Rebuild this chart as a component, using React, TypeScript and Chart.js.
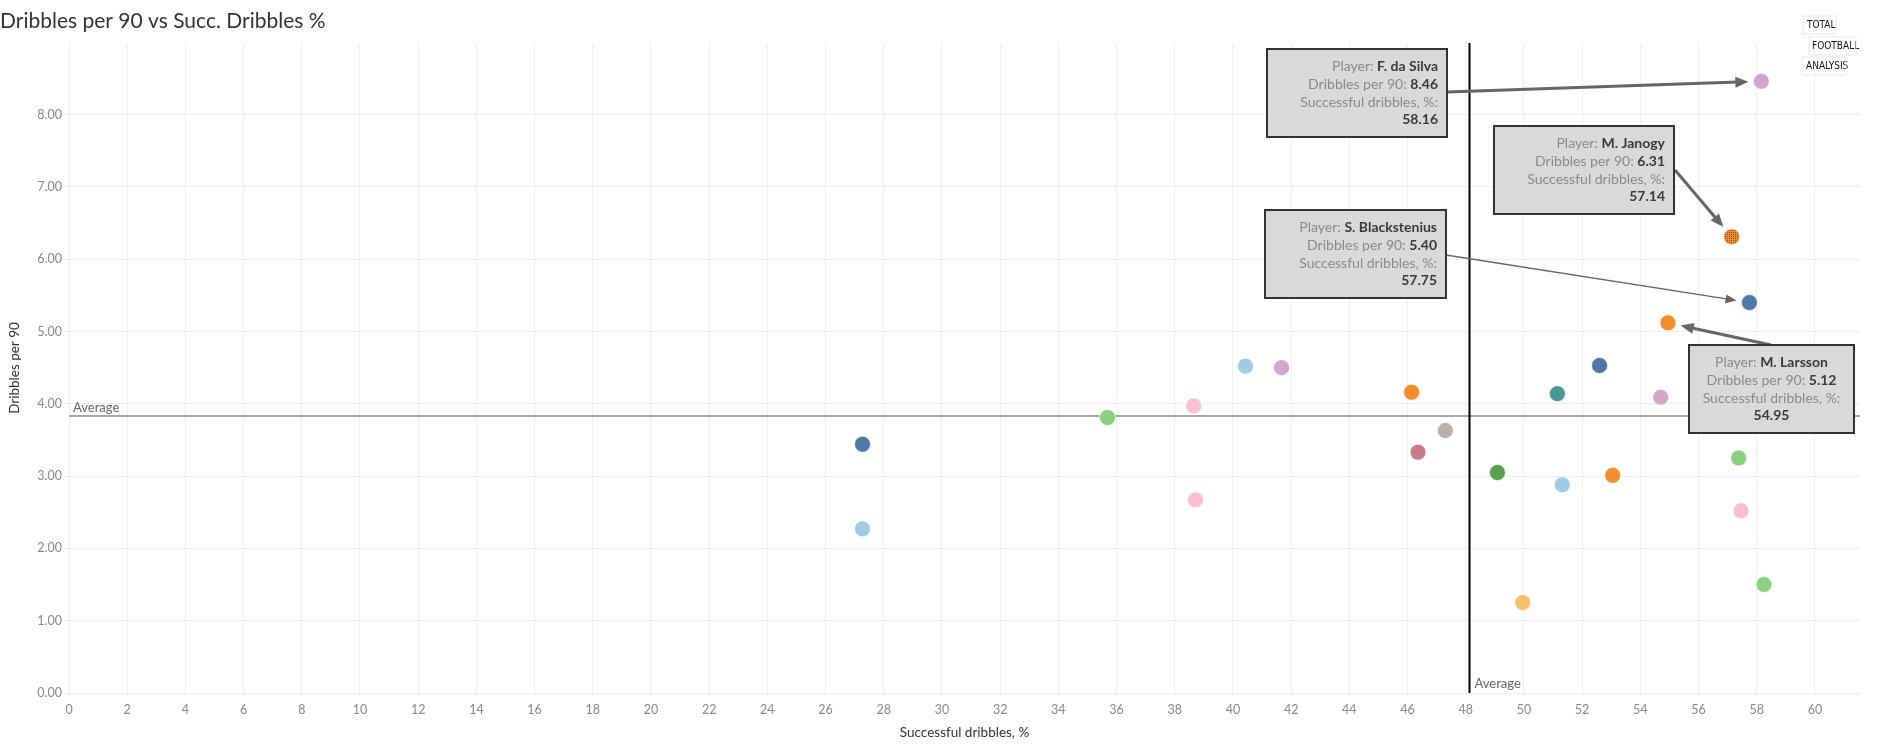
import React, { useEffect, useRef } from "react";
import { Chart, registerables } from "chart.js";

Chart.register(...registerables);

// ---- data ----
const succDribblesPct: number[] = [
  58.16, 57.14, 57.75, 54.95, 52.6, 51.15, 54.7, 40.43, 41.67, 46.14, 38.65, 35.69,
  47.3, 27.27, 46.36, 49.09, 51.32, 53.05, 57.38, 38.71, 57.46, 27.27, 49.96, 58.25,
];
const dribblesPer90: number[] = [
  8.46, 6.31, 5.4, 5.12, 4.53, 4.14, 4.09, 4.52, 4.5, 4.16, 3.97, 3.81,
  3.63, 3.44, 3.33, 3.05, 2.88, 3.01, 3.25, 2.67, 2.52, 2.27, 1.25, 1.5,
];
const pointColors: string[] = [
  "#d4a6c8", "PATTERN", "#4e79a7", "#f28e2b", "#4e79a7", "#499894", "#d4a6c8", "#a0cbe8",
  "#d4a6c8", "#f28e2b", "#fabfd2", "#8cd17d", "#bab0ac", "#4e79a7", "#c97b8e", "#59a14f",
  "#a0cbe8", "#f28e2b", "#8cd17d", "#fabfd2", "#fabfd2", "#a0cbe8", "#f5c26b", "#8cd17d",
];
const annotatedIndex: number[] = [0, 1, 2, 3];
const annotatedNames: string[] = ["F. da Silva", "M. Janogy", "S. Blackstenius", "M. Larsson"];
const avgSuccPct = 48.13;
const avgDribbles = 3.83;

const titleText = "Dribbles per 90 vs Succ. Dribbles %";
const xTitle = "Successful dribbles, %";
const yTitle = "Dribbles per 90";

// ---- layout of annotation boxes (pixels) ----
const annLayout = [
  { box: [1267, 49, 180, 88], align: "right", from: [1447, 92], thick: true },
  { box: [1494, 126, 180, 88], align: "right", from: [1675, 170], thick: true },
  { box: [1265, 210, 181, 88], align: "right", from: [1446, 255], thick: false },
  { box: [1689, 345, 165, 88], align: "center", from: [1771, 345], thick: true },
];

const FONT = "Lato, 'Noto Sans', sans-serif";

function drawArrow(ctx: CanvasRenderingContext2D, x1: number, y1: number, x2: number, y2: number, thick: boolean) {
  const ang = Math.atan2(y2 - y1, x2 - x1);
  const hl = thick ? 13 : 11;
  const hw = thick ? 5.5 : 4.5;
  ctx.save();
  ctx.strokeStyle = "#666";
  ctx.fillStyle = "#666";
  ctx.lineWidth = thick ? 3 : 1.3;
  ctx.beginPath();
  ctx.moveTo(x1, y1);
  ctx.lineTo(x2 - Math.cos(ang) * hl * 0.8, y2 - Math.sin(ang) * hl * 0.8);
  ctx.stroke();
  ctx.beginPath();
  ctx.moveTo(x2, y2);
  ctx.lineTo(x2 - Math.cos(ang) * hl - Math.sin(ang) * hw, y2 - Math.sin(ang) * hl + Math.cos(ang) * hw);
  ctx.lineTo(x2 - Math.cos(ang) * hl + Math.sin(ang) * hw, y2 - Math.sin(ang) * hl - Math.cos(ang) * hw);
  ctx.closePath();
  ctx.fill();
  ctx.restore();
}

function drawRich(ctx: CanvasRenderingContext2D, parts: [string, boolean][], x: number, y: number, align: string) {
  const fonts = parts.map(([, b]) => (b ? `bold 14px ${FONT}` : `14px ${FONT}`));
  let total = 0;
  const widths = parts.map(([t], i) => {
    ctx.font = fonts[i];
    const w = ctx.measureText(t).width;
    total += w;
    return w;
  });
  let cx = align === "right" ? x - total : x - total / 2;
  parts.forEach(([t, b], i) => {
    ctx.font = fonts[i];
    ctx.fillStyle = b ? "#3a3a3a" : "#8a8a8a";
    ctx.textAlign = "left";
    ctx.textBaseline = "middle";
    ctx.fillText(t, cx, y);
    cx += widths[i];
  });
}

const overlayPlugin = {
  id: "overlay",
  beforeDatasetsDraw(chart: any) {
    const { ctx, chartArea, scales } = chart;
    const xs = scales.x;
    const ys = scales.y;
    const hy = ys.getPixelForValue(avgDribbles);
    const vx = xs.getPixelForValue(avgSuccPct);
    ctx.save();
    ctx.strokeStyle = "#a6a6a6";
    ctx.lineWidth = 2;
    ctx.beginPath();
    ctx.moveTo(chartArea.left, hy);
    ctx.lineTo(chartArea.right, hy);
    ctx.stroke();
    ctx.strokeStyle = "#000";
    ctx.lineWidth = 2;
    ctx.beginPath();
    ctx.moveTo(vx, chartArea.top);
    ctx.lineTo(vx, chartArea.bottom);
    ctx.stroke();
    ctx.font = `13px ${FONT}`;
    ctx.fillStyle = "#666";
    ctx.textAlign = "left";
    ctx.textBaseline = "middle";
    ctx.fillText("Average", chartArea.left + 4, hy - 8.5);
    ctx.fillText("Average", vx + 5, chartArea.bottom - 9);
    ctx.restore();
  },
  afterDatasetsDraw(chart: any) {
    const { ctx, scales } = chart;
    const xs = scales.x;
    const ys = scales.y;
    ctx.save();
    annLayout.forEach((a, k) => {
      const i = annotatedIndex[k];
      const px = xs.getPixelForValue(succDribblesPct[i]);
      const py = ys.getPixelForValue(dribblesPer90[i]);
      const [fx, fy] = a.from;
      const d = Math.hypot(px - fx, py - fy);
      const tx = px - ((px - fx) / d) * 13;
      const ty = py - ((py - fy) / d) * 13;
      drawArrow(ctx, fx, fy, tx, ty, a.thick);
      const [bx, by, bw, bh] = a.box;
      ctx.fillStyle = "#d9d9d9";
      ctx.fillRect(bx, by, bw, bh);
      ctx.strokeStyle = "#333";
      ctx.lineWidth = 2;
      ctx.strokeRect(bx, by, bw, bh);
      const tx0 = a.align === "right" ? bx + bw - 9 : bx + bw / 2;
      const l0 = by + 17.7;
      drawRich(ctx, [["Player: ", false], [annotatedNames[k], true]], tx0, l0, a.align);
      drawRich(ctx, [["Dribbles per 90: ", false], [dribblesPer90[i].toFixed(2), true]], tx0, l0 + 17.8, a.align);
      drawRich(ctx, [["Successful dribbles, %:", false]], tx0, l0 + 35.6, a.align);
      drawRich(ctx, [[succDribblesPct[i].toFixed(2), true]], tx0, l0 + 53.2, a.align);
    });
    ctx.restore();
  },
  afterDraw(chart: any) {
    const { ctx } = chart;
    ctx.save();
    ctx.fillStyle = "#111";
    ctx.textAlign = "left";
    ctx.textBaseline = "middle";
    ctx.font = `10px 'DejaVu Sans Condensed', sans-serif`;
    ctx.fillText("TOTAL", 1807, 25);
    ctx.fillText("FOOTBALL", 1812, 46);
    ctx.fillText("ANALYSIS", 1806, 66);
    ctx.strokeStyle = "#e8e8e8";
    ctx.lineWidth = 1;
    ctx.strokeRect(1803, 16, 33, 18);
    ctx.strokeRect(1809, 37, 47, 18);
    ctx.strokeRect(1802, 57, 44, 18);
    ctx.restore();
  },
};

export default function App() {
  const ref = useRef<HTMLCanvasElement | null>(null);
  useEffect(() => {
    const canvas = ref.current;
    if (!canvas) return;
    const pc = document.createElement("canvas");
    pc.width = 2;
    pc.height = 2;
    const pctx = pc.getContext("2d")!;
    pctx.fillStyle = "#e8913a";
    pctx.fillRect(0, 0, 2, 2);
    pctx.fillStyle = "#6f5a4a";
    pctx.fillRect(1, 0, 1, 1);
    const pattern = canvas.getContext("2d")!.createPattern(pc, "repeat");
    const colors = pointColors.map((c) => (c === "PATTERN" ? pattern : c));

    const chart = new Chart(canvas, {
      type: "scatter",
      data: {
        datasets: [
          {
            data: succDribblesPct.map((x, i) => ({ x, y: dribblesPer90[i] })),
            pointBackgroundColor: colors as any,
            pointBorderColor: "rgba(255,255,255,0.7)",
            pointBorderWidth: 1,
            pointRadius: 8,
          },
        ],
      },
      options: {
        responsive: false,
        animation: false,
        devicePixelRatio: 1,
        layout: { padding: { left: 0, right: 23, top: 0, bottom: 0 } },
        plugins: {
          legend: { display: false },
          tooltip: { enabled: false },
          title: {
            display: true,
            text: titleText,
            align: "start",
            color: "#333",
            font: { family: FONT, size: 21, weight: "normal" },
            padding: { top: 9, bottom: 8.8 },
          },
        },
        scales: {
          x: {
            type: "linear",
            min: 0,
            max: 61.55,
            afterFit: (s: any) => {
              s.height = 61;
            },
            ticks: {
              stepSize: 2,
              includeBounds: false,
              color: "#888",
              font: { family: FONT, size: 12.5 },
              padding: 4,
              maxRotation: 0,
              autoSkip: false,
            },
            grid: { color: "#efefef", tickLength: 5, drawTicks: true },
            border: { display: false },
            title: {
              display: true,
              text: xTitle,
              color: "#333",
              font: { family: FONT, size: 13.5 },
              padding: { top: 0, bottom: 13 },
            },
          },
          y: {
            type: "linear",
            min: 0,
            max: 8.99,
            afterFit: (s: any) => {
              s.width = 69;
            },
            ticks: {
              stepSize: 1,
              includeBounds: false,
              color: "#888",
              font: { family: FONT, size: 12.5 },
              padding: 2,
              callback: (v: any) => Number(v).toFixed(2),
            },
            grid: { color: "#efefef", tickLength: 5, drawTicks: true },
            border: { display: false },
            title: {
              display: true,
              text: yTitle,
              color: "#333",
              font: { family: FONT, size: 13.5 },
              padding: { top: 7, bottom: 0 },
            },
          },
        },
      },
      plugins: [overlayPlugin],
    });
    return () => chart.destroy();
  }, []);

  return (
    <div style={{ position: "fixed", left: 0, top: 0, width: 1883, height: 754, background: "#fff" }}>
      <canvas ref={ref} width={1883} height={754} style={{ display: "block", width: 1883, height: 754 }} />
    </div>
  );
}
